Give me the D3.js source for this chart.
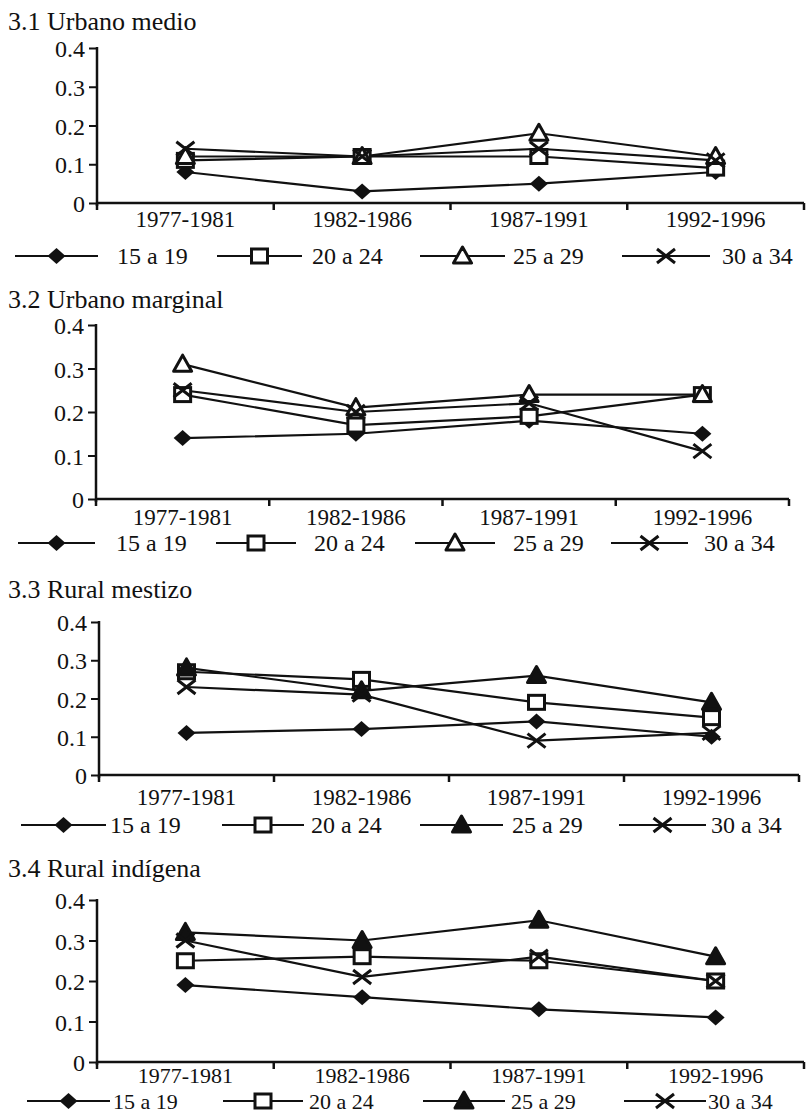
<!DOCTYPE html>
<html>
<head>
<meta charset="utf-8">
<script src="https://cdn.jsdelivr.net/npm/d3@7"></script>
<style>
  body { margin: 0; background: #fff; }
  svg text { font-family: "Liberation Serif", "DejaVu Serif", serif !important; fill: #111; }
</style>
</head>
<body>
<div class="chart"></div>
<script>
// data
var periods = ["1977-1981", "1982-1986", "1987-1991", "1992-1996"];
var groups = ["15 a 19", "20 a 24", "25 a 29", "30 a 34"];
var titles = ["3.1 Urbano medio", "3.2 Urbano marginal", "3.3 Rural mestizo", "3.4 Rural indígena"];
var yTicks = [0, 0.1, 0.2, 0.3, 0.4];

// one row per age group, one value per period
var urbanoMedio = [
  [0.08, 0.03, 0.05, 0.08],
  [0.11, 0.12, 0.12, 0.09],
  [0.12, 0.12, 0.18, 0.12],
  [0.14, 0.12, 0.14, 0.11]
];
var urbanoMarginal = [
  [0.14, 0.15, 0.18, 0.15],
  [0.24, 0.17, 0.19, 0.24],
  [0.31, 0.21, 0.24, 0.24],
  [0.25, 0.20, 0.22, 0.11]
];
var ruralMestizo = [
  [0.11, 0.12, 0.14, 0.10],
  [0.27, 0.25, 0.19, 0.15],
  [0.28, 0.22, 0.26, 0.19],
  [0.23, 0.21, 0.09, 0.11]
];
var ruralIndigena = [
  [0.19, 0.16, 0.13, 0.11],
  [0.25, 0.26, 0.25, 0.20],
  [0.32, 0.30, 0.35, 0.26],
  [0.30, 0.21, 0.26, 0.20]
];
var panelData = [urbanoMedio, urbanoMarginal, ruralMestizo, ruralIndigena];

// layout of each panel (pixels)
var layout = [
  { titleY: 30, top: 48, bottom: 203, left: 97, right: 804, labelY: 227, legY: 256, labelSize: 23, legSize: 24,
    legend: [[15, 98, 117], [217, 302, 312], [420, 505, 513], [622, 710, 722]], filledTri: false },
  { titleY: 308, top: 325, bottom: 499, left: 96, right: 789, labelY: 525, legY: 543, labelSize: 23, legSize: 24,
    legend: [[18, 95, 116], [216, 296, 314], [415, 495, 513], [611, 688, 704]], filledTri: false },
  { titleY: 598, top: 622, bottom: 775, left: 99, right: 799, labelY: 805, legY: 825, labelSize: 23, legSize: 24,
    legend: [[21, 106, 110], [222, 304, 311], [420, 503, 512], [619, 706, 711]], filledTri: true },
  { titleY: 877, top: 900, bottom: 1062, left: 97, right: 804, labelY: 1083, legY: 1101, labelSize: 22, legSize: 22,
    legend: [[27, 110, 113], [223, 303, 309], [423, 505, 511], [624, 706, 708]], filledTri: true }
];

var svg = d3.select(".chart")
  .append("svg")
  .attr("width", 807)
  .attr("height", 1114)
  .attr("font-family", "Liberation Serif, serif");

function drawMarker(g, kind, x, y, filledTri) {
  if (kind == 0) {
    g.append("path")
      .attr("d", "M" + (x - 9) + "," + y + "L" + x + "," + (y - 8) + "L" + (x + 9) + "," + y + "L" + x + "," + (y + 8) + "Z")
      .attr("fill", "#111");
  } else if (kind == 1) {
    g.append("rect")
      .attr("x", x - 8).attr("y", y - 7)
      .attr("width", 16).attr("height", 14)
      .attr("fill", "#fff").attr("stroke", "#111").attr("stroke-width", 3);
  } else if (kind == 2) {
    g.append("path")
      .attr("d", "M" + x + "," + (y - 9) + "L" + (x + 9) + "," + (y + 7) + "L" + (x - 9) + "," + (y + 7) + "Z")
      .attr("fill", filledTri ? "#111" : "#fff")
      .attr("stroke", "#111").attr("stroke-width", 3).attr("stroke-linejoin", "round");
  } else {
    g.append("path")
      .attr("d", "M" + (x - 9) + "," + (y - 7) + "L" + (x + 9) + "," + (y + 7) + "M" + (x - 9) + "," + (y + 7) + "L" + (x + 9) + "," + (y - 7))
      .attr("fill", "none").attr("stroke", "#111").attr("stroke-width", 3);
  }
}

panelData.forEach(function(series, p) {
  var L = layout[p];
  var chart = svg.append("g");

  var xScale = d3.scaleBand().domain(periods).range([L.left, L.right]);
  var yScale = d3.scaleLinear().domain([0, 0.4]).range([L.bottom, L.top]);

  // title
  chart.append("text")
    .attr("x", 8).attr("y", L.titleY)
    .style("font-size", "26px")
    .text(titles[p]);

  // y axis
  var leftAxis = d3.axisLeft(yScale).tickValues(yTicks)
    .tickFormat(function(d) { return d == 0 ? "0" : d3.format(".1f")(d); })
    .tickSize(8).tickPadding(4);
  var yAxis = chart.append("g")
    .attr("transform", "translate(" + L.left + ",0)")
    .call(leftAxis)
    .attr("font-family", null);
  yAxis.select(".domain").remove();
  yAxis.append("line")
    .attr("x1", 0).attr("x2", 0).attr("y1", L.top - 1).attr("y2", L.bottom + 3)
    .attr("stroke", "#111").attr("stroke-width", 2.5);
  yAxis.selectAll(".tick line").attr("stroke", "#111").attr("stroke-width", 2);
  yAxis.selectAll(".tick text").style("font-size", "24px").attr("fill", "#111").attr("dy", "0.36em");

  // x axis: line plus tick marks between categories
  var bounds = periods.map(function(d) { return xScale(d); }).concat([L.right]);
  chart.append("line")
    .attr("x1", L.left).attr("x2", L.right).attr("y1", L.bottom).attr("y2", L.bottom)
    .attr("stroke", "#111").attr("stroke-width", 2.5);
  chart.selectAll(".xtick")
    .data(bounds)
    .enter().append("line")
      .attr("x1", function(d) { return d; }).attr("x2", function(d) { return d; })
      .attr("y1", L.bottom).attr("y2", L.bottom + 7)
      .attr("stroke", "#111").attr("stroke-width", 2.5);
  chart.selectAll(".xlabel")
    .data(periods)
    .enter().append("text")
      .attr("x", function(d) { return xScale(d) + xScale.bandwidth() / 2; })
      .attr("y", L.labelY)
      .attr("text-anchor", "middle")
      .style("font-size", L.labelSize + "px")
      .text(function(d) { return d; });

  // series
  var line = d3.line()
    .x(function(d, i) { return xScale(periods[i]) + xScale.bandwidth() / 2; })
    .y(function(d) { return yScale(d); });

  series.forEach(function(vals, s) {
    chart.append("path")
      .attr("d", line(vals))
      .attr("fill", "none").attr("stroke", "#111").attr("stroke-width", 2.2);
  });
  series.forEach(function(vals, s) {
    vals.forEach(function(v, i) {
      drawMarker(chart, s, xScale(periods[i]) + xScale.bandwidth() / 2, yScale(v), L.filledTri);
    });
  });

  // legend
  groups.forEach(function(name, s) {
    var pos = L.legend[s];
    chart.append("line")
      .attr("x1", pos[0]).attr("x2", pos[1]).attr("y1", L.legY).attr("y2", L.legY)
      .attr("stroke", "#111").attr("stroke-width", 2.2);
    drawMarker(chart, s, (pos[0] + pos[1]) / 2, L.legY, L.filledTri);
    chart.append("text")
      .attr("x", pos[2]).attr("y", L.legY + 8)
      .style("font-size", L.legSize + "px")
      .text(name);
  });
});
</script>
</body>
</html>
